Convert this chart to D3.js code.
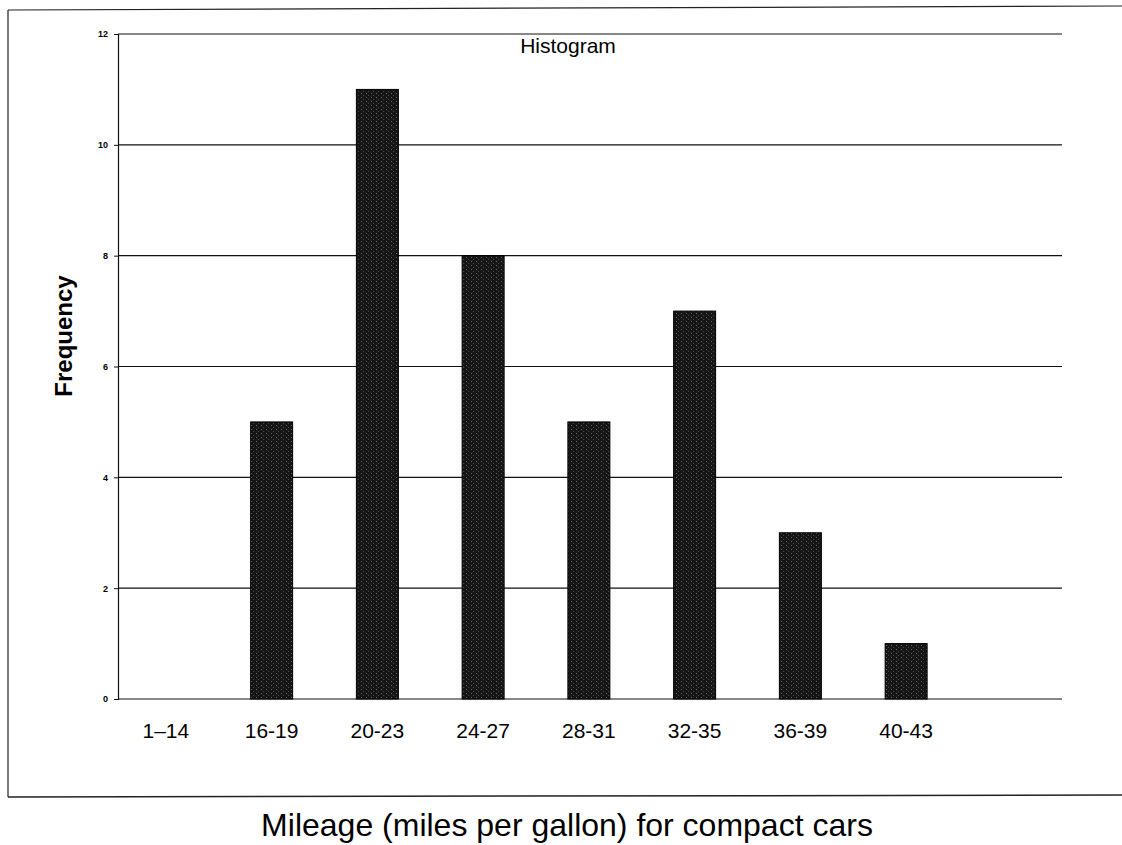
<!DOCTYPE html>
<html><head><meta charset="utf-8">
<script src="https://cdn.jsdelivr.net/npm/d3@7"></script>
<style>body{margin:0;background:#fff}svg{display:block}text{font-family:"Liberation Sans",Arial,sans-serif}</style>
</head><body>
<svg id="c" width="1122" height="845"></svg>
<script>
const categories = ["1\u201314","16-19","20-23","24-27","28-31","32-35","36-39","40-43"];
const frequencies = [0,5,11,8,5,7,3,1];
const yTicks = [0,2,4,6,8,10,12];

const svg = d3.select("#c");
const defs = svg.append("defs");
const pat = defs.append("pattern").attr("id","tex").attr("patternUnits","userSpaceOnUse").attr("width",5).attr("height",4);
pat.append("rect").attr("width",5).attr("height",4).attr("fill","#151515");
pat.append("rect").attr("x",1).attr("y",1).attr("width",1).attr("height",1).attr("fill","#6a6a6a");
pat.append("rect").attr("x",3).attr("y",3).attr("width",1).attr("height",1).attr("fill","#4a4a4a");

const x = d3.scaleBand().domain(categories).range([113,959]).paddingInner(0.6).paddingOuter(0.3);
const y = d3.scaleLinear().domain([0,12]).range([699,34]);
const axisX = 118, gridRight = 1062;

// outer frame
svg.append("line").attr("x1",8).attr("x2",1122).attr("y1",10).attr("y2",6).attr("stroke","#222").attr("stroke-width",1.2);
svg.append("line").attr("x1",8).attr("x2",8).attr("y1",10).attr("y2",797).attr("stroke","#222").attr("stroke-width",1.2);
svg.append("line").attr("x1",8).attr("x2",1122).attr("y1",797).attr("y2",795).attr("stroke","#222").attr("stroke-width",1.5);

// gridlines
svg.append("g").selectAll("line").data(yTicks).join("line")
  .attr("x1",axisX).attr("x2",gridRight)
  .attr("y1",d=>y(d)).attr("y2",d=>y(d))
  .attr("stroke","#111").attr("stroke-width",1.2);

// y axis
const ya = svg.append("g").attr("transform",`translate(${axisX},0)`)
  .call(d3.axisLeft(y).tickValues(yTicks).tickSize(4).tickPadding(6));
ya.select(".domain").attr("stroke","#111").attr("stroke-width",1.2);
ya.selectAll(".tick line").attr("stroke","#111");
ya.selectAll("text").attr("font-size",9).attr("font-weight","bold").attr("fill","#000")
  .style("font-family","'Liberation Sans',Arial,sans-serif");

// bars
const bw = 42;
svg.append("g").selectAll("rect").data(categories.map((c,i)=>({c,v:frequencies[i]})).filter(d=>d.v>0)).join("rect")
  .attr("x",d=>x(d.c)+x.bandwidth()/2-bw/2)
  .attr("width",bw)
  .attr("y",d=>y(d.v))
  .attr("height",d=>y(0)-y(d.v))
  .attr("fill","url(#tex)").attr("stroke","#000").attr("stroke-width",1);

// x labels
const xa = svg.append("g").attr("transform","translate(0,699)")
  .call(d3.axisBottom(x).tickSize(0).tickPadding(24));
xa.select(".domain").remove();
xa.selectAll("text").attr("font-size",21).attr("fill","#000")
  .style("font-family","'Liberation Sans',Arial,sans-serif");

// title
svg.append("text").attr("x",568).attr("y",53).attr("text-anchor","middle")
  .attr("font-size",21).text("Histogram");
// y title
svg.append("text").attr("transform","translate(72,336) rotate(-90)").attr("text-anchor","middle")
  .attr("font-size",24).attr("font-weight","bold").text("Frequency");
// x title
svg.append("text").attr("x",567).attr("y",836).attr("text-anchor","middle")
  .attr("font-size",32).text("Mileage (miles per gallon) for compact cars");
</script>
</body></html>
